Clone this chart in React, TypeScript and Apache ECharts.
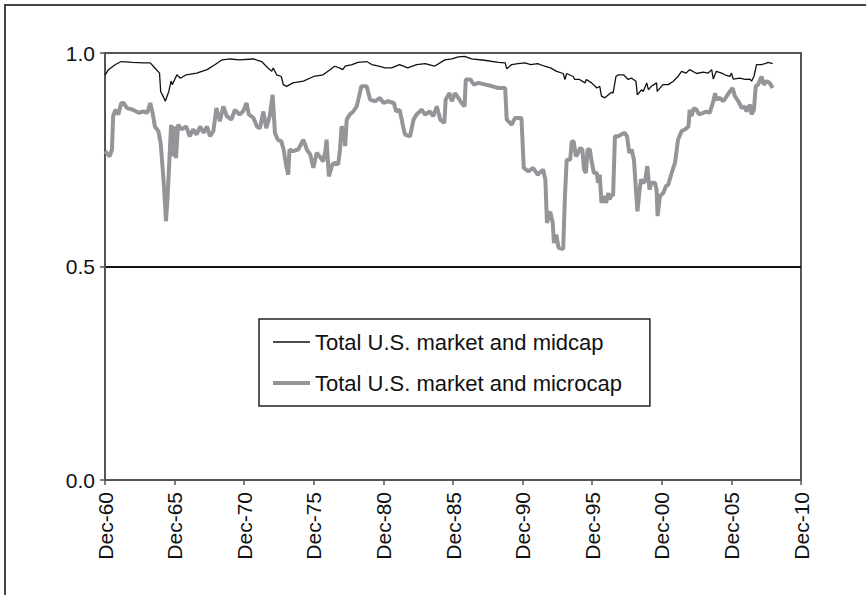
import React, { useEffect, useRef } from "react";
import * as echarts from "echarts";

// x = months since Dec-1960, y = correlation
const midcap: [number, number][] = [
  [0, 0.948], [3, 0.961], [9, 0.973], [14, 0.98], [24, 0.978], [33, 0.977], [39, 0.977], [43, 0.965],
  [47, 0.953], [48, 0.91], [50, 0.899], [52, 0.887], [55, 0.91], [57, 0.934], [58, 0.926], [62, 0.949],
  [65, 0.941], [70, 0.949], [79, 0.953], [88, 0.961], [95, 0.973], [101, 0.984], [108, 0.986], [116, 0.984],
  [128, 0.986], [135, 0.98], [139, 0.969], [143.7, 0.957], [145, 0.965], [148, 0.949], [152, 0.945],
  [153.7, 0.926], [156.6, 0.922], [162, 0.93], [171, 0.934], [180, 0.945], [188, 0.949], [194, 0.961],
  [198, 0.969], [202, 0.965], [205, 0.961], [207, 0.969], [213, 0.973], [218, 0.978], [225.6, 0.98],
  [230, 0.973], [236, 0.969], [241.4, 0.965], [247, 0.965], [254, 0.973], [261, 0.965], [268.6, 0.973],
  [276, 0.975], [284, 0.969], [293, 0.984], [299, 0.986], [304.6, 0.991], [310, 0.992], [316, 0.986],
  [327, 0.983], [339, 0.978], [345, 0.977], [346.3, 0.963], [350.6, 0.973], [356, 0.975], [362, 0.977],
  [367, 0.973], [373, 0.975], [379, 0.969], [384, 0.965], [389.4, 0.957], [395, 0.952], [396.5, 0.938],
  [398, 0.952], [403.6, 0.945], [405, 0.938], [409, 0.938], [413.8, 0.93], [415, 0.938], [419.5, 0.93],
  [424, 0.918], [426.5, 0.922], [428, 0.899], [431, 0.895], [434, 0.902], [436.7, 0.908], [438, 0.906],
  [440.5, 0.945], [442.5, 0.949], [447, 0.949], [451, 0.938], [454, 0.941], [457.7, 0.934], [458.9, 0.902],
  [462.6, 0.914], [464, 0.91], [467, 0.93], [468.4, 0.914], [471, 0.922], [475.5, 0.93], [476, 0.91],
  [481, 0.926], [485.6, 0.926], [489.9, 0.934], [494, 0.945], [497, 0.957], [501, 0.953], [504, 0.961],
  [510, 0.952], [515.7, 0.955], [520, 0.953], [523, 0.961], [524.4, 0.939], [527, 0.957], [531.6, 0.953],
  [534.4, 0.949], [538.7, 0.945], [540, 0.953], [541.6, 0.939], [547.3, 0.941], [551.6, 0.938], [556, 0.939],
  [557.4, 0.934], [559.4, 0.945], [561.7, 0.973], [566, 0.973], [569, 0.975], [571.8, 0.978], [575.6, 0.975],
];

const microcap: [number, number][] = [
  [0, 0.77], [4, 0.758], [6, 0.774], [7, 0.852], [9, 0.867], [11.5, 0.856], [14, 0.883], [16, 0.883],
  [19, 0.871], [24, 0.867], [29, 0.86], [33, 0.863], [36.5, 0.86], [39, 0.883], [41, 0.86], [43, 0.828],
  [46, 0.817], [48, 0.789], [50, 0.719], [51, 0.68], [52.6, 0.606], [54, 0.665], [55.5, 0.75], [57, 0.832],
  [58.4, 0.758], [60, 0.828], [61.2, 0.754], [63, 0.832], [66, 0.821], [70, 0.828], [73, 0.805], [76, 0.821],
  [79, 0.809], [82, 0.828], [85, 0.813], [88, 0.828], [90.5, 0.805], [93.4, 0.817], [96, 0.871], [99, 0.84],
  [102, 0.875], [105, 0.852], [109, 0.844], [112, 0.867], [116, 0.856], [119, 0.863], [122, 0.883],
  [124, 0.856], [128, 0.848], [131, 0.828], [133.6, 0.824], [136.5, 0.863], [139, 0.824], [142, 0.852],
  [144.5, 0.902], [146.5, 0.813], [149, 0.797], [152, 0.793], [154, 0.774], [156, 0.739], [158, 0.715],
  [159, 0.774], [162, 0.77], [166.6, 0.774], [171, 0.797], [174, 0.774], [177, 0.762], [179.6, 0.731],
  [182.5, 0.766], [185, 0.758], [188, 0.746], [190, 0.77], [191, 0.797], [193, 0.711], [196, 0.739],
  [198, 0.743], [201, 0.739], [202.6, 0.774], [204, 0.828], [205.5, 0.821], [207, 0.782], [208.4, 0.844],
  [211, 0.856], [214, 0.863], [217, 0.875], [218.4, 0.891], [221, 0.922], [225.6, 0.922], [228.5, 0.891],
  [233, 0.887], [237, 0.895], [240, 0.883], [244, 0.887], [249, 0.883], [251, 0.863], [254, 0.867],
  [257, 0.828], [258.6, 0.809], [263, 0.805], [266, 0.844], [268.6, 0.856], [273, 0.867], [276, 0.856],
  [280, 0.863], [283, 0.852], [286, 0.875], [289, 0.844], [292.5, 0.836], [293.7, 0.891], [297, 0.906],
  [299, 0.887], [301.7, 0.906], [304.6, 0.895], [307.4, 0.883], [310, 0.875], [311, 0.938], [315, 0.938],
  [318, 0.926], [322, 0.93], [328, 0.926], [334, 0.922], [339, 0.918], [345, 0.918], [346.3, 0.844],
  [350.6, 0.832], [353.5, 0.848], [359, 0.848], [361, 0.731], [365, 0.723], [369, 0.731], [373, 0.715],
  [377.6, 0.727], [379.6, 0.704], [381, 0.602], [383, 0.626], [384, 0.626], [386, 0.602], [387, 0.555],
  [389, 0.575], [391, 0.544], [395, 0.541], [396.5, 0.665], [398, 0.75], [401, 0.75], [402.4, 0.793],
  [404, 0.793], [406, 0.758], [408, 0.766], [409.5, 0.778], [411.5, 0.774], [413, 0.727], [414.6, 0.719],
  [416, 0.774], [418, 0.774], [419.5, 0.746], [421.5, 0.719], [424, 0.719], [425, 0.696], [426.5, 0.715],
  [428, 0.649], [430, 0.665], [432, 0.649], [434, 0.672], [435, 0.657], [436.7, 0.668], [438, 0.665],
  [439.6, 0.805], [442.5, 0.805], [445, 0.809], [448, 0.813], [450, 0.805], [452, 0.766], [454, 0.774],
  [456, 0.75], [457.7, 0.68], [459, 0.629], [460.6, 0.672], [462, 0.704], [464, 0.696], [465.6, 0.7],
  [467.5, 0.735], [469.4, 0.68], [471, 0.696], [474, 0.696], [475.5, 0.68], [476.4, 0.618], [478.4, 0.665],
  [481.3, 0.672], [483.6, 0.688], [485.6, 0.692], [488.5, 0.719], [491.4, 0.743], [494, 0.797], [497, 0.817],
  [500, 0.821], [503, 0.828], [504, 0.867], [505.6, 0.852], [507.6, 0.871], [510, 0.867], [512, 0.856],
  [515.7, 0.86], [518.5, 0.863], [521.4, 0.86], [524.4, 0.887], [526, 0.906], [527, 0.891], [530, 0.895],
  [533, 0.887], [536, 0.899], [538.7, 0.91], [541, 0.918], [543, 0.899], [546, 0.887], [549, 0.871],
  [551.6, 0.875], [553, 0.863], [556, 0.879], [557.4, 0.856], [559.4, 0.867], [561, 0.922], [563, 0.926],
  [566, 0.945], [568, 0.926], [570.6, 0.934], [573, 0.93], [575.6, 0.918],
];

const seriesNames = ["Total U.S. market and midcap", "Total U.S. market and microcap"];
const yTicks = [0, 0.5, 1.0];

const FONT = '"Liberation Sans", Arial, sans-serif';

export default function App() {
  const ref = useRef<HTMLDivElement>(null);
  useEffect(() => {
    document.body.style.margin = "0";
    if (!ref.current) return;
    const chart = echarts.init(ref.current, undefined, { renderer: "svg" });
    chart.setOption({
      animation: false,
      backgroundColor: "#ffffff",
      textStyle: { fontFamily: FONT },
      graphic: [
        {
          type: "rect",
          silent: true,
          shape: { x: 5, y: 5, width: 1000, height: 1000 },
          style: { fill: "none", stroke: "#444", lineWidth: 2 },
        },
      ],
      grid: {
        left: 105,
        top: 53,
        right: 65,
        bottom: 115,
        show: true,
        borderColor: "#555",
        borderWidth: 2,
        backgroundColor: "transparent",
      },
      legend: {
        orient: "vertical",
        left: 259,
        top: 319,
        padding: [11, 28, 11, 12],
        itemGap: 17,
        itemWidth: 37,
        itemHeight: 14,
        borderColor: "#222",
        borderWidth: 1.5,
        backgroundColor: "#fff",
        itemStyle: { opacity: 0 },
        lineStyle: { width: "inherit" },
        textStyle: { fontFamily: FONT, fontSize: 22, color: "#111", lineHeight: 24 },
        data: [
          { name: seriesNames[0], lineStyle: { width: 1.3, color: "#111" } },
          { name: seriesNames[1], lineStyle: { width: 4, color: "#939598" } },
        ],
      },
      xAxis: {
        type: "value",
        min: 0,
        max: 600,
        interval: 60,
        axisLine: { show: true, onZero: false, lineStyle: { color: "#555", width: 2 } },
        axisTick: { show: true, length: 5, lineStyle: { color: "#555", width: 1.5 } },
        splitLine: { show: false },
        axisLabel: {
          rotate: 90,
          margin: 12,
          fontFamily: FONT,
          fontSize: 21,
          color: "#111",
          formatter: (v: number) => "Dec-" + String((60 + Math.round(v / 12)) % 100).padStart(2, "0"),
        },
      },
      yAxis: {
        type: "value",
        min: yTicks[0],
        max: yTicks[yTicks.length - 1],
        interval: 0.5,
        axisLine: { show: true, lineStyle: { color: "#555", width: 2 } },
        axisTick: { show: true, length: 5, lineStyle: { color: "#555", width: 1.5 } },
        splitLine: { show: true, lineStyle: { color: ["#555", "#111", "#555"], width: 2 } },
        axisLabel: {
          margin: 10,
          fontFamily: FONT,
          fontSize: 21,
          color: "#111",
          formatter: (v: number) => v.toFixed(1),
        },
      },
      series: [
        {
          name: seriesNames[0],
          type: "line",
          data: midcap,
          symbol: "none",
          lineStyle: { color: "#111", width: 1.3 },
          itemStyle: { color: "#111" },
          z: 3,
        },
        {
          name: seriesNames[1],
          type: "line",
          data: microcap,
          symbol: "none",
          lineStyle: { color: "#939598", width: 4 },
          itemStyle: { color: "#939598" },
          z: 2,
        },
      ],
    });
    return () => chart.dispose();
  }, []);
  return <div ref={ref} style={{ width: 866, height: 595 }} />;
}
